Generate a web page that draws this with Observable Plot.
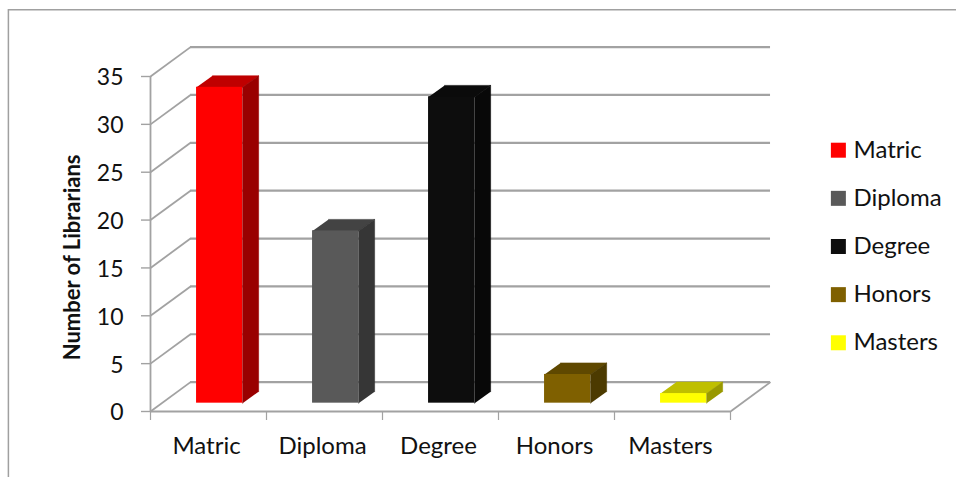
<!DOCTYPE html>
<html>
<head>
<meta charset="utf-8">
<script src="https://cdn.jsdelivr.net/npm/d3@7"></script>
<script src="https://cdn.jsdelivr.net/npm/@observablehq/plot@0.6"></script>
<style>
  html, body { margin: 0; padding: 0; background: #fff; }
  svg { display: block; }
</style>
</head>
<body>
<div id="chart"></div>
<script>
// Qualifications of librarians, as a pseudo-3D column chart.
const categories = ["Matric", "Diploma", "Degree", "Honors", "Masters"];
const librarians = [33, 18, 32, 3, 1];
const frontColors = ["#ff0000", "#595959", "#0d0d0d", "#7f6000", "#ffff00"];
const topColors = ["#bf0000", "#434343", "#0b0b0b", "#5f4800", "#bfbf00"];
const sideColors = ["#990000", "#363636", "#080808", "#4c3a00", "#999900"];
const yTicks = [0, 5, 10, 15, 20, 25, 30, 35];

// Depth of the chart box and of the columns, in data units of each scale.
const wall = {dx: 0.345, dy: 3.07};
const bar = {inset: 0.397, width: 0.397, lift: 0.87, dx: 0.138, dy: 1.2};

const gridColor = "#a2a2a2";
const inkColor = "#111";
const fontFamily = "Lato, sans-serif";

const rows = categories.map((name, i) => {
  const x1 = i + bar.inset, x2 = x1 + bar.width;
  return {name, i, x1, x2, y1: bar.lift, y2: bar.lift + librarians[i]};
});

// Top and side faces as closed polygons.
const faces = rows.flatMap((r) => [
  ...[[r.x1, r.y2], [r.x2, r.y2], [r.x2 + bar.dx, r.y2 + bar.dy], [r.x1 + bar.dx, r.y2 + bar.dy]]
    .map(([x, y]) => ({x, y, face: `top-${r.i}`, color: topColors[r.i]})),
  ...[[r.x2, r.y1], [r.x2, r.y2], [r.x2 + bar.dx, r.y2 + bar.dy], [r.x2 + bar.dx, r.y1 + bar.dy]]
    .map(([x, y]) => ({x, y, face: `side-${r.i}`, color: sideColors[r.i]}))
]);

// Legend rows sit on a regular step of the value scale.
const legendRows = categories.map((name, i) => ({name, i, y: 27.3 - 5.03 * i}));

const plot = Plot.plot({
  width: 956,
  height: 477,
  marginLeft: 150,
  marginRight: 226,
  marginTop: 76,
  marginBottom: 66,
  style: {fontFamily, color: inkColor, background: "#fff"},
  x: {domain: [0, 5]},
  y: {domain: [0, 35]},
  marks: [
    // Outer chart border, top and left only.
    Plot.ruleY([41.97], {x1: -1.225, x2: 7, stroke: "#a0a0a0", strokeWidth: 1.5}),
    Plot.ruleX([-1.225], {y1: -7, y2: 41.97, stroke: "#a0a0a0", strokeWidth: 1.5}),

    // Back wall gridlines and the slanted lines on the left wall.
    Plot.ruleY(yTicks, {
      x1: wall.dx, x2: 5 + wall.dx,
      y: (d) => d + wall.dy,
      stroke: gridColor, strokeWidth: 2.2
    }),
    Plot.link(yTicks, {
      x1: () => 0, x2: () => wall.dx,
      y1: (d) => d, y2: (d) => d + wall.dy,
      stroke: gridColor, strokeWidth: 1.8
    }),
    // Right edge of the floor.
    Plot.link([0], {
      x1: () => 5, x2: () => 5 + wall.dx,
      y1: () => 0, y2: () => wall.dy,
      stroke: gridColor, strokeWidth: 1.8
    }),

    // Axes.
    Plot.ruleX([0], {y1: 0, y2: 35, stroke: gridColor, strokeWidth: 1.8}),
    Plot.ruleY([0], {x1: 0, x2: 5, stroke: gridColor, strokeWidth: 2.2}),
    Plot.axisY({
      ticks: yTicks, label: null, tickSize: 9, tickFormat: () => "",
      stroke: gridColor, strokeWidth: 1.4
    }),
    Plot.axisY({
      ticks: yTicks, label: null, tickSize: 0, tickPadding: 27, dy: 1.5,
      fontSize: 23, fill: inkColor
    }),
    Plot.axisX({
      ticks: d3.range(6), label: null, tickSize: 9, tickFormat: () => "",
      stroke: gridColor, strokeWidth: 1.2
    }),
    Plot.axisX({
      ticks: categories.map((_, i) => i + 0.5), label: null, tickSize: 0, tickPadding: 25, dx: -2,
      tickFormat: (d) => categories[Math.floor(d)], fontSize: 24, fill: inkColor
    }),

    // Columns.
    Plot.line(faces, {x: "x", y: "y", z: "face", fill: "color", stroke: "color", strokeWidth: 0.6}),
    Plot.rect(rows, {x1: "x1", x2: "x2", y1: "y1", y2: "y2", fill: (d) => frontColors[d.i]}),

    // Value axis title.
    Plot.text(["Number of Librarians"], {
      x: () => -0.672, y: () => 16.1, rotate: -90,
      fontSize: 22, fontWeight: 700, fill: inkColor
    }),

    // Legend.
    Plot.dot(legendRows, {
      x: () => 5.93, y: "y", symbol: "square", r: 8.46,
      fill: (d) => frontColors[d.i]
    }),
    Plot.text(legendRows, {
      x: () => 6.06, y: "y", text: "name", textAnchor: "start",
      fontSize: 24, fill: inkColor
    })
  ]
});

document.getElementById("chart").append(plot);
</script>
</body>
</html>
